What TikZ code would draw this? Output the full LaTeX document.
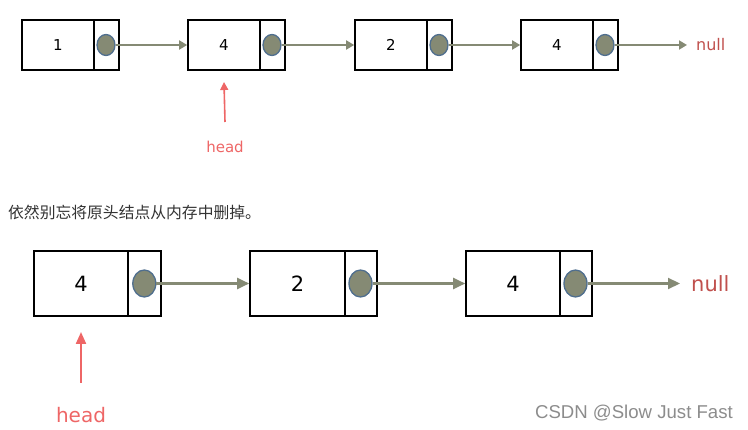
\documentclass[tikz,border=0pt]{standalone}
\usepackage{fontspec}
\setmainfont{DejaVu Sans}
\newfontfamily\cjk{Noto Sans CJK SC}
\newfontfamily\wmfont{Liberation Sans}
\usetikzlibrary{arrows.meta,shapes.geometric}
\definecolor{linkgray}{HTML}{858A74}
\definecolor{dotedge}{HTML}{4F6E8E}
\definecolor{nullred}{HTML}{C0504D}
\definecolor{headred}{HTML}{EE6666}

\begin{document}
\begin{tikzpicture}[x=1pt, y=-1pt,
  valbox/.style={draw, rectangle, line width=1.6pt, inner sep=0pt},
  ptrbox/.style={draw, rectangle, line width=1.6pt, inner sep=0pt},
  dot/.style={draw=dotedge, fill=linkgray, ellipse, line width=1.3pt, inner sep=0pt},
  link/.style={draw=linkgray, line width=1.8pt, -{Triangle[length=8pt,width=9pt]}},
  biglink/.style={draw=linkgray, line width=2.2pt, -{Triangle[length=12pt,width=11pt]}},
  headarrow/.style={draw=headred, line width=1.6pt, -{Triangle[length=8pt,width=8pt]}},
  bigheadarrow/.style={draw=headred, line width=2.2pt, -{Triangle[length=12pt,width=10pt]}}]
  \useasboundingbox (0,0) rectangle (748,430);

  % first list
  \tikzset{small/.style={minimum height=50pt, font=\fontsize{15}{15}\selectfont}}
  \node[valbox, small, minimum width=72pt] (a1) at (58,45) {1};
  \node[ptrbox, small, minimum width=25pt] (b1) at (106.5,45) {};
  \node[dot, minimum width=18pt, minimum height=21pt] (c1) at (106,45) {};
  \node[valbox, small, minimum width=72pt] (a2) at (224,45) {4};
  \node[ptrbox, small, minimum width=25pt] (b2) at (272.5,45) {};
  \node[dot, minimum width=18pt, minimum height=21pt] (c2) at (272,45) {};
  \node[valbox, small, minimum width=72pt] (a3) at (391,45) {2};
  \node[ptrbox, small, minimum width=25pt] (b3) at (439.5,45) {};
  \node[dot, minimum width=18pt, minimum height=21pt] (c3) at (439,45) {};
  \node[valbox, small, minimum width=72pt] (a4) at (557,45) {4};
  \node[ptrbox, small, minimum width=25pt] (b4) at (605.5,45) {};
  \node[dot, minimum width=18pt, minimum height=21pt] (c4) at (605,45) {};
  \node[text=nullred, font=\fontsize{16}{16}\selectfont, anchor=west, inner sep=0pt] (n1) at (696,45) {null};
  \coordinate (n1tip) at (687,45);
  \node[text=headred, font=\fontsize{15}{15}\selectfont] (h1) at (225,147) {head};
  \coordinate (h1foot) at (225,122);

  \draw[link] (c1.east) -- (a2.west);
  \draw[link] (c2.east) -- (a3.west);
  \draw[link] (c3.east) -- (a4.west);
  \draw[link] (c4.east) -- (n1tip);
  \draw[headarrow] (h1foot) -- (a2.south |- 0,82);

  \node[anchor=west, inner sep=0pt, text=black!80, font=\cjk\fontsize{15.8}{15.8}\selectfont] (note) at (8,212.5) {依然别忘将原头结点从内存中删掉。};

  % second list
  \tikzset{big/.style={minimum height=65pt, font=\fontsize{21}{21}\selectfont}}
  \node[valbox, big, minimum width=94pt] (d1) at (81,283.5) {4};
  \node[ptrbox, big, minimum width=33pt] (e1) at (144.5,283.5) {};
  \node[dot, minimum width=23pt, minimum height=27pt] (f1) at (144.3,283.5) {};
  \node[valbox, big, minimum width=95pt] (d2) at (297.5,283.5) {2};
  \node[ptrbox, big, minimum width=32pt] (e2) at (361,283.5) {};
  \node[dot, minimum width=23pt, minimum height=27pt] (f2) at (360.5,283.5) {};
  \node[valbox, big, minimum width=94pt] (d3) at (513,283.5) {4};
  \node[ptrbox, big, minimum width=32pt] (e3) at (576,283.5) {};
  \node[dot, minimum width=23pt, minimum height=27pt] (f3) at (575.5,283.5) {};
  \node[text=nullred, font=\fontsize{21}{21}\selectfont, anchor=west, inner sep=0pt] (n2) at (691,283.5) {null};
  \coordinate (n2tip) at (680,283.5);
  \node[text=headred, font=\fontsize{20}{20}\selectfont] (h2) at (81,415) {head};
  \coordinate (h2foot) at (81,383);

  \draw[biglink] (f1.east) -- (d2.west);
  \draw[biglink] (f2.east) -- (d3.west);
  \draw[biglink] (f3.east) -- (n2tip);
  \draw[bigheadarrow] (h2foot) -- (d1.south |- 0,332);

  \node[anchor=east, inner sep=0pt, text=black!45, font=\wmfont\fontsize{18.6}{18.6}\selectfont] (mark) at (733,413) {CSDN @Slow Just Fast};
\end{tikzpicture}
\end{document}
